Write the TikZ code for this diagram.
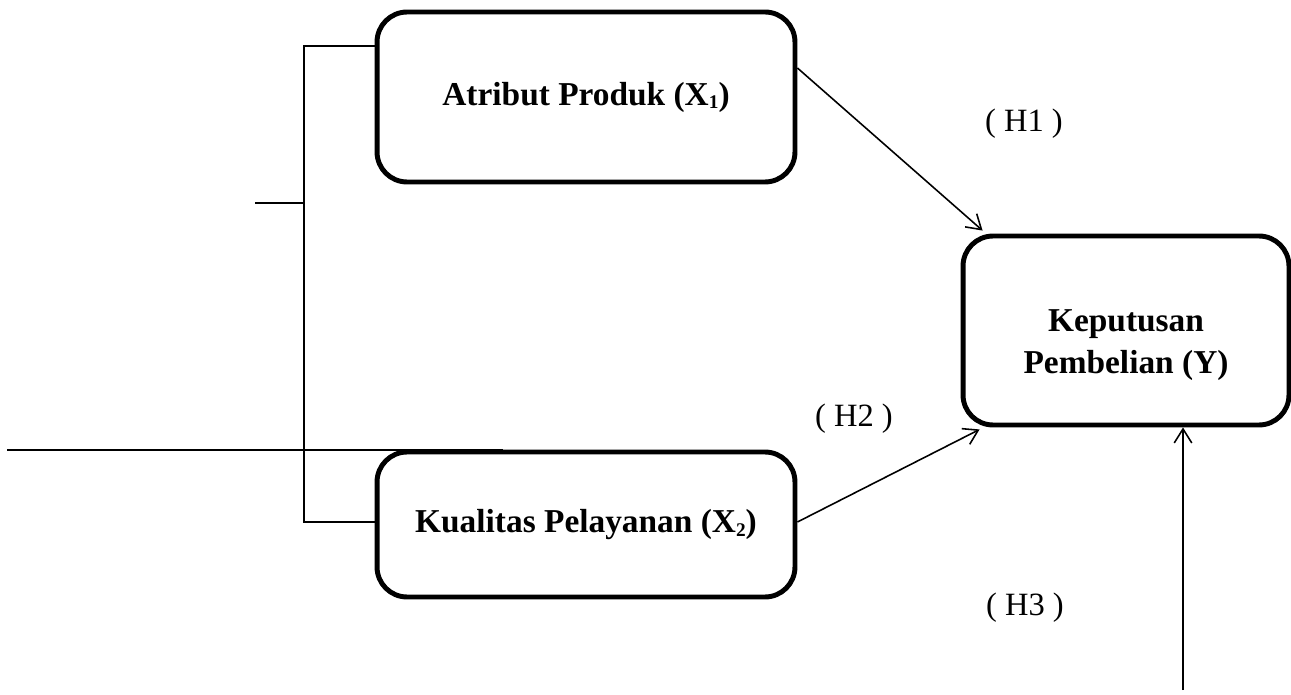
\documentclass[tikz,border=0pt]{standalone}
\usepackage{fontspec}
\setmainfont{Liberation Serif}
\usepackage{tikz}
\usetikzlibrary{arrows.meta,calc}

\newcommand{\kecil}[1]{\raisebox{-0.25ex}{\fontsize{11}{11}\selectfont #1}}

\begin{document}
\begin{tikzpicture}[x=0.02cm,y=-0.02cm,
    varbox/.style={draw, line width=2.8pt, rounded corners=0.6cm, align=center,
        font=\fontsize{19}{24}\selectfont\bfseries},
    hyp/.style={font=\fontsize{18.5}{22}\selectfont},
    panah/.style={line width=0.9pt, -{Straight Barb[length=8pt,width=10pt]}},
    garis/.style={line width=0.9pt}]
                \useasboundingbox (0,0) rectangle (1291,695);
                \node[varbox, minimum width=8.36cm, minimum height=3.4cm] (X1) at (586,97) {Atribut Produk (X\kecil{1})};
                \node[varbox, minimum width=8.36cm, minimum height=2.9cm] (X2) at (586,524.5) {Kualitas Pelayanan (X\kecil{2})};
                \node[varbox, minimum width=6.52cm, minimum height=3.78cm] (Y) at (1126,330.5) {\rule{0pt}{29pt}Keputusan\\Pembelian (Y)};
                \coordinate (brk) at (304,203);
                \coordinate (tick) at (255,203);
                \coordinate (lineL) at (7,450);
                \coordinate (lineR) at (503,450);
                \coordinate (h3) at (1183,690);
                \draw[garis] ($(X1.west)+(0,-51)$) -| (brk) |- ($(X2.west)+(0,-2.5)$);
                \draw[garis] (tick) -- (brk);
                \draw[line width=1.1pt] (lineL) -- (lineR);
                \draw[panah] ($(X1.east)+(0,-29)$) -- ($(Y.north west)+(22,-3)$);
                \draw[panah] ($(X2.east)+(0,-2.5)$) -- ($(Y.south west)+(19,2)$);
                \draw[panah] (h3) -- (h3 |- Y.south);
                \node[hyp] (H1) at (1024,124) {( H1 )};
                \node[hyp] (H2) at (854,419) {( H2 )};
                \node[hyp] (H3) at (1025,608) {( H3 )};
            \end{tikzpicture}
\end{document}
